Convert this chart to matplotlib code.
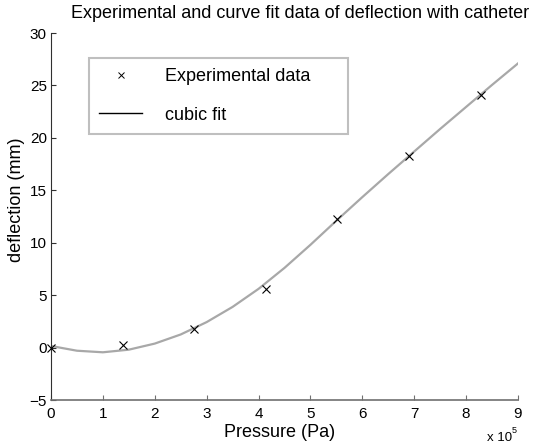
import matplotlib
matplotlib.use('agg')
import matplotlib.pyplot as plt
from matplotlib.lines import Line2D

plt.rcParams['font.family'] = ['Liberation Sans', 'DejaVu Sans']

# experimental data (pressure in 1e5 Pa, deflection in mm)
pressure = [0.0, 1.38, 2.76, 4.14, 5.52, 6.90, 8.28]
deflection = [0.0, 0.25, 1.78, 5.55, 12.28, 18.25, 24.1]

# cubic fit curve
fit_p = [0.0, 0.5, 1.0, 1.5, 2.0, 2.5, 3.0, 3.5, 4.0, 4.5,
         5.0, 5.5, 6.0, 6.5, 7.0, 7.5, 8.0, 8.5, 9.0]
fit_d = [0.15, -0.3, -0.45, -0.2, 0.38, 1.25, 2.43, 3.88, 5.6, 7.6,
         9.8, 12.1, 14.35, 16.55, 18.7, 20.85, 22.95, 25.05, 27.1]

W, H = 535, 448
fig = plt.figure(figsize=(W/100.0, H/100.0), dpi=100)
ax = fig.add_axes([51.0/W, 1-400.0/H, 467.0/W, 367.0/H])

ax.plot(fit_p, fit_d, '-', color='#a8a8a8', linewidth=1.6, zorder=2)
ax.plot(pressure, deflection, 'x', color='black', markersize=5.5,
        markeredgewidth=0.8, zorder=3, clip_on=False)

ax.set_xlim(0, 9)
ax.set_ylim(-5, 30)
ax.set_xticks(range(0, 10))
ax.set_yticks(range(-5, 31, 5))
ax.set_yticklabels(['\u22125', '0', '5', '10', '15', '20', '25', '30'])

ax.spines['top'].set_visible(False)
ax.spines['right'].set_visible(False)
ax.spines['left'].set_color('#303030')
ax.spines['left'].set_linewidth(0.8)
ax.spines['bottom'].set_color('#707070')
ax.spines['bottom'].set_linewidth(1.2)
ax.tick_params(direction='in', length=3.5, width=0.8, labelsize=11,
               colors='#303030', labelcolor='black')
ax.tick_params(axis='x', pad=5, colors='#707070', labelcolor='black')
ax.tick_params(axis='y', pad=3)

fig.text(300.0/W, 1-13.0/H, 'Experimental and curve fit data of deflection with catheter',
         ha='center', va='center', fontsize=13)
fig.text(280.0/W, 1-432.0/H, 'Pressure (Pa)', ha='center', va='center', fontsize=13)
fig.text(17.0/W, 1-200.0/H, 'deflection (mm)', ha='center', va='center',
         rotation=90, fontsize=13)
fig.text(487.0/W, 1-438.0/H, 'x 10', ha='left', va='center', fontsize=9.5)
fig.text(512.0/W, 1-430.0/H, '5', ha='left', va='center', fontsize=6.5)

handles = [Line2D([], [], linestyle='none', marker='x', color='black',
                  markersize=4, markeredgewidth=0.7),
           Line2D([], [], color='black', linewidth=1.0)]
leg = ax.legend(handles, ['Experimental data', 'cubic fit'],
                loc='upper left', mode='expand',
                bbox_to_anchor=(89.0/W, 1-133.0/H, 259.0/W, 75.0/H),
                bbox_transform=fig.transFigure,
                fontsize=13, frameon=True, fancybox=False,
                borderpad=0.55, labelspacing=1.2, handlelength=2.4,
                handletextpad=1.25, borderaxespad=0)
leg.get_frame().set_edgecolor('#b0b0b0')
leg.get_frame().set_linewidth(1.5)

fig.savefig('out.png', dpi=100)
